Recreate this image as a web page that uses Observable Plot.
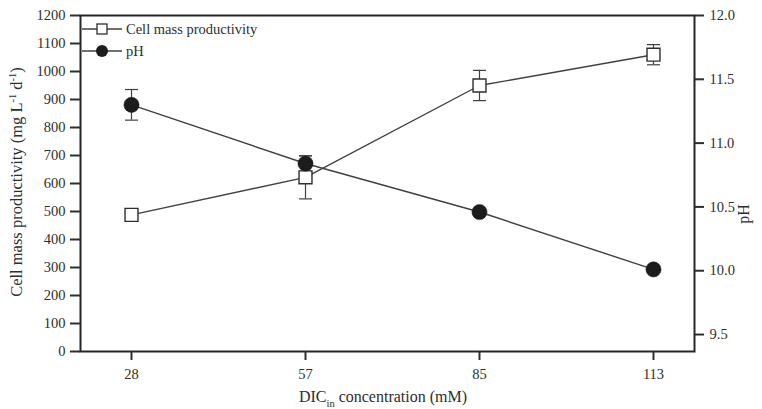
<!DOCTYPE html>
<html>
<head>
<meta charset="utf-8">
<script src="https://cdn.jsdelivr.net/npm/d3@7"></script>
<script src="https://cdn.jsdelivr.net/npm/@observablehq/plot@0.6"></script>
<style>
  html, body { margin: 0; padding: 0; background: #fff; }
  #chart { width: 762px; height: 409px; }
</style>
</head>
<body>
<div id="chart"></div>
<script>
// ---- data ----
const dicLabels = ["28", "57", "85", "113"];
const cellMass = [488, 622, 950, 1060];
const cellMassErr = [8, 77, 54, 36];
const phValues = [11.30, 10.84, 10.46, 10.01];
const phErr = [0.12, 0.06, 0.02, 0.02];
const leftTicks = [0, 100, 200, 300, 400, 500, 600, 700, 800, 900, 1000, 1100, 1200];
const phTicks = [9.5, 10.0, 10.5, 11.0, 11.5, 12.0];
const phDomain = [9.367, 12.0];
const leftDomain = [0, 1200];

// map pH onto left scale
const phToY = d3.scaleLinear(phDomain, leftDomain);

const rows = dicLabels.map((x, i) => ({
  x,
  cm: cellMass[i], cmLo: cellMass[i] - cellMassErr[i], cmHi: cellMass[i] + cellMassErr[i],
  ph: phToY(phValues[i]), phLo: phToY(phValues[i] - phErr[i]), phHi: phToY(phValues[i] + phErr[i])
}));

const capSymbol = {
  draw(context, size) {
    const r = Math.sqrt(size / Math.PI);
    context.moveTo(-r, 0);
    context.lineTo(r, 0);
  }
};

const ink = "#2e2e2e";
const lineInk = "#404040";

const svg = Plot.plot({
  width: 762,
  height: 409,
  marginLeft: 80,
  marginRight: 68,
  marginTop: 15,
  marginBottom: 58,
  style: { fontFamily: "'Liberation Serif', 'Times New Roman', serif", fontSize: "14px", color: ink, background: "#fff" },
  x: { type: "point", domain: dicLabels, range: [131, 653], padding: 0 },
  y: { domain: leftDomain },
  marks: [
    Plot.frame({ stroke: "#262626", strokeWidth: 2 }),
    Plot.axisY({ ticks: leftTicks, anchor: "left", tickSize: 10, tickPadding: 5, label: null, strokeWidth: 2, fontSize: 14.5, tickFormat: "d" }),
    Plot.axisY({ ticks: phTicks.map(phToY), anchor: "right", tickSize: 9, tickPadding: 6, label: null, strokeWidth: 2, fontSize: 14.5,
      tickFormat: (d) => phToY.invert(d).toFixed(1) }),
    Plot.axisX({ tickSize: 9, tickPadding: 8, label: null, strokeWidth: 2, fontSize: 14.5 }),
    // lines
    Plot.line(rows, { x: "x", y: "cm", stroke: lineInk, strokeWidth: 1.4 }),
    Plot.line(rows, { x: "x", y: "ph", stroke: lineInk, strokeWidth: 1.4 }),
    // error bars
    Plot.ruleX(rows, { x: "x", y1: "cmLo", y2: "cmHi", stroke: lineInk, strokeWidth: 1.2 }),
    Plot.dot(rows, { x: "x", y: "cmLo", symbol: capSymbol, r: 6.5, stroke: lineInk, strokeWidth: 1.2, fill: "none" }),
    Plot.dot(rows, { x: "x", y: "cmHi", symbol: capSymbol, r: 6.5, stroke: lineInk, strokeWidth: 1.2, fill: "none" }),
    Plot.ruleX(rows, { x: "x", y1: "phLo", y2: "phHi", stroke: lineInk, strokeWidth: 1.2 }),
    Plot.dot(rows, { x: "x", y: "phLo", symbol: capSymbol, r: 6.5, stroke: lineInk, strokeWidth: 1.2, fill: "none" }),
    Plot.dot(rows, { x: "x", y: "phHi", symbol: capSymbol, r: 6.5, stroke: lineInk, strokeWidth: 1.2, fill: "none" }),
    // markers
    Plot.dot(rows, { x: "x", y: "cm", symbol: "square", r: 7.3, fill: "#fff", stroke: ink, strokeWidth: 1.4 }),
    Plot.dot(rows, { x: "x", y: "ph", symbol: "circle", r: 7.6, fill: "#1c1c1c", stroke: "#1c1c1c", strokeWidth: 0.5 })
  ]
});

document.getElementById("chart").appendChild(svg);

// ---- titles and legend (text with sub/superscripts) ----
const s = d3.select(svg);
const font = "'Liberation Serif', 'Times New Roman', serif";

// left y title
const lt = s.append("text")
  .attr("transform", "translate(22,182) rotate(-90)")
  .attr("text-anchor", "middle")
  .attr("font-family", font).attr("font-size", 16.5).attr("fill", ink);
lt.append("tspan").text("Cell mass productivity (mg L");
lt.append("tspan").attr("dy", -6).attr("font-size", 10.5).text("-1");
lt.append("tspan").attr("dy", 6).text(" d");
lt.append("tspan").attr("dy", -6).attr("font-size", 10.5).text("-1");
lt.append("tspan").attr("dy", 6).text(")");

// right y title
s.append("text")
  .attr("transform", "translate(749,214) rotate(-90)")
  .attr("text-anchor", "middle")
  .attr("font-family", font).attr("font-size", 16).attr("fill", ink)
  .text("pH");

// x title
const xt = s.append("text")
  .attr("x", 383).attr("y", 402)
  .attr("text-anchor", "middle")
  .attr("font-family", font).attr("font-size", 16).attr("fill", ink);
xt.append("tspan").text("DIC");
xt.append("tspan").attr("dy", 5).attr("font-size", 10.5).text("in");
xt.append("tspan").attr("dy", -5).text(" concentration (mM)");

// legend
const leg = s.append("g").attr("font-family", font).attr("font-size", 14.5).attr("fill", ink).attr("text-anchor", "start");
const legendRows = [
  { label: "Cell mass productivity", y: 29, kind: "square" },
  { label: "pH", y: 51, kind: "circle" }
];
legendRows.forEach((r) => {
  leg.append("line").attr("x1", 82).attr("x2", 122).attr("y1", r.y).attr("y2", r.y)
    .attr("stroke", lineInk).attr("stroke-width", 1.3);
  if (r.kind === "square") {
    leg.append("rect").attr("x", 97).attr("y", r.y - 5).attr("width", 10).attr("height", 10)
      .attr("fill", "#fff").attr("stroke", ink).attr("stroke-width", 1.3);
  } else {
    leg.append("circle").attr("cx", 102).attr("cy", r.y).attr("r", 6).attr("fill", "#1c1c1c");
  }
  leg.append("text").attr("x", 126).attr("y", r.y).attr("dy", "0.35em").attr("text-anchor", "start").text(r.label);
});
</script>
</body>
</html>
